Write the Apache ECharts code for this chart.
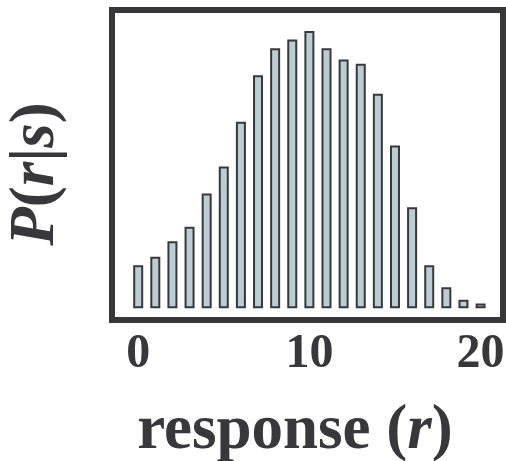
<!DOCTYPE html>
<html>
<head>
<meta charset="utf-8">
<script src="https://cdn.jsdelivr.net/npm/echarts@6/dist/echarts.min.js"></script>
<style>html,body{margin:0;padding:0;background:#fff;}#c{width:506px;height:461px;}</style>
</head>
<body>
<div id="c"></div>
<script>
// response values r and probabilities P(r|s)
const responses = [0,1,2,3,4,5,6,7,8,9,10,11,12,13,14,15,16,17,18,19,20];
const probs = [0.0142,0.0170,0.0221,0.0269,0.0378,0.0467,0.0615,0.0768,0.0857,0.0886,0.0914,0.0857,0.0820,0.0806,0.0707,0.0536,0.0333,0.0142,0.0069,0.0028,0.0016];
const xTicks = [0, 10, 20];
const xName = 'response ({i|r})';
const yName = '{i|P}({i|r}|{i|s})';

const FONT = 'Liberation Serif';
const DARK = '#38383c';
const chart = echarts.init(document.getElementById('c'), null, {renderer: 'canvas'});
chart.setOption({
  animation: false,
  backgroundColor: '#ffffff',
  grid: {left: 112, right: 3, top: 10, bottom: 141, show: true, borderWidth: 6, borderColor: DARK, backgroundColor: 'transparent',
    containLabel: false, outerBoundsMode: 'none'},
  xAxis: {
    type: 'value', min: -1.53, max: 21.31,
    axisLine: {show: false}, axisTick: {show: false}, splitLine: {show: false},
    axisLabel: {customValues: xTicks, fontFamily: FONT, fontWeight: 'bold', fontSize: 48, color: DARK, margin: 11},
    name: xName, nameLocation: 'middle', nameGap: 80,
    nameTextStyle: {fontFamily: FONT, fontWeight: 'bold', fontSize: 63, color: DARK, lineHeight: 63, padding: [0, 25, 0, 0],
      rich: {i: {fontFamily: FONT, fontWeight: 'bold', fontStyle: 'italic', fontSize: 63, color: DARK, lineHeight: 63}}}
  },
  yAxis: {
    type: 'value', min: -0.00386, max: 0.09829,
    axisLine: {show: false}, axisTick: {show: false}, splitLine: {show: false}, axisLabel: {show: false},
    name: yName, nameLocation: 'middle', nameGap: 44, nameRotate: 90,
    nameTextStyle: {fontFamily: FONT, fontWeight: 'bold', fontSize: 63, color: DARK, lineHeight: 63, padding: [0, 18, 0, 0],
      rich: {i: {fontFamily: FONT, fontWeight: 'bold', fontStyle: 'italic', fontSize: 63, color: DARK, lineHeight: 63}}}
  },
  series: [{
    type: 'bar',
    data: responses.map((r, i) => [r, probs[i]]),
    barWidth: 10,
    itemStyle: {color: '#bacdd5', borderColor: DARK, borderWidth: 2}
  }]
});
</script>
</body>
</html>
